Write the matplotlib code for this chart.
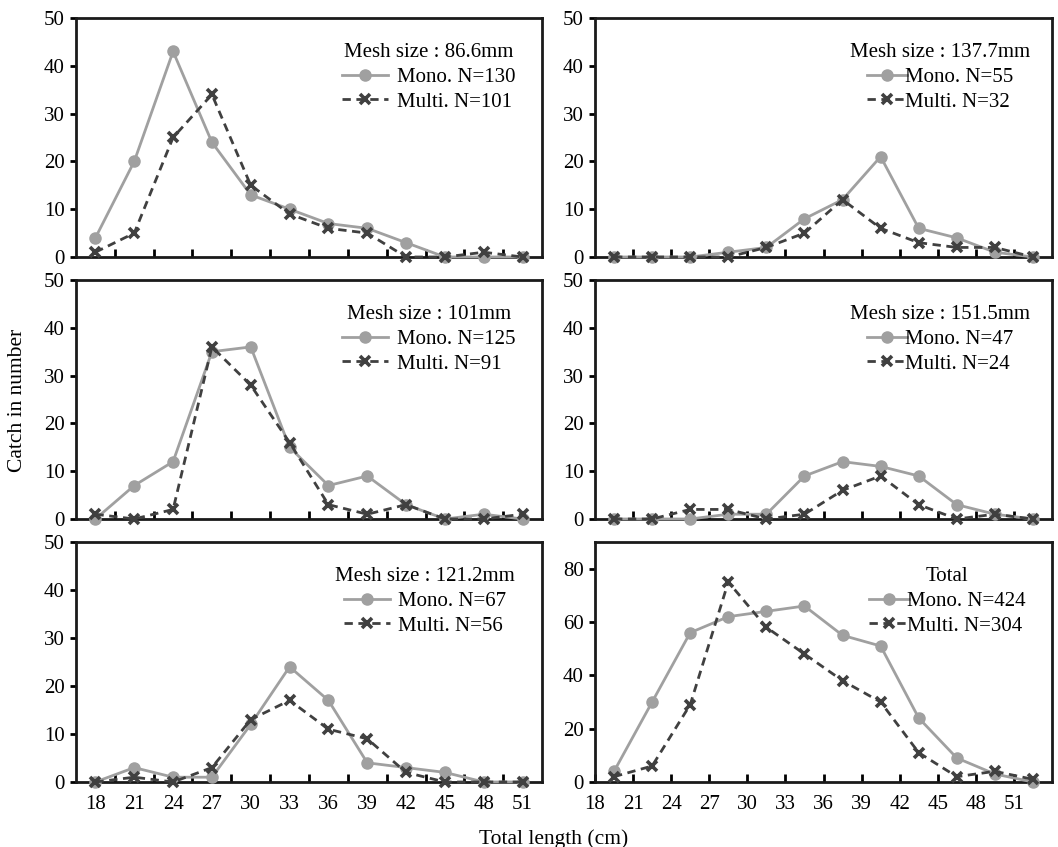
import numpy as np
import matplotlib.pyplot as plt

plt.rcParams['font.family'] = ['Liberation Serif', 'DejaVu Serif']
plt.rcParams['font.size'] = 15

# length classes (cm)
lengths = [18, 21, 24, 27, 30, 33, 36, 39, 42, 45, 48, 51]

# catch in number per length class
mono_866 = [4, 20, 43, 24, 13, 10, 7, 6, 3, 0, 0, 0]
multi_866 = [1, 5, 25, 34, 15, 9, 6, 5, 0, 0, 1, 0]

mono_1377 = [0, 0, 0, 1, 2, 8, 12, 21, 6, 4, 1, 0]
multi_1377 = [0, 0, 0, 0, 2, 5, 12, 6, 3, 2, 2, 0]

mono_101 = [0, 7, 12, 35, 36, 15, 7, 9, 3, 0, 1, 0]
multi_101 = [1, 0, 2, 36, 28, 16, 3, 1, 3, 0, 0, 1]

mono_1515 = [0, 0, 0, 1, 1, 9, 12, 11, 9, 3, 1, 0]
multi_1515 = [0, 0, 2, 2, 0, 1, 6, 9, 3, 0, 1, 0]

mono_1212 = [0, 3, 1, 1, 12, 24, 17, 4, 3, 2, 0, 0]
multi_1212 = [0, 1, 0, 3, 13, 17, 11, 9, 2, 0, 0, 0]

mono_total = [4, 30, 56, 62, 64, 66, 55, 51, 24, 9, 3, 0]
multi_total = [2, 6, 29, 75, 58, 48, 38, 30, 11, 2, 4, 1]

titles = ['Mesh size : 86.6mm', 'Mesh size : 137.7mm',
          'Mesh size : 101mm', 'Mesh size : 151.5mm',
          'Mesh size : 121.2mm', 'Total']
mono_n = [130, 55, 125, 47, 67, 424]
multi_n = [101, 32, 91, 24, 56, 304]

panels = [(mono_866, multi_866), (mono_1377, multi_1377),
          (mono_101, multi_101), (mono_1515, multi_1515),
          (mono_1212, multi_1212), (mono_total, multi_total)]

W, H = 1058, 847
fig = plt.figure(figsize=(W / 100, H / 100), dpi=100)

cols = [(76, 542), (595, 1052)]
rows = [(18, 257), (280, 519), (542, 782)]

mono_col = '#a0a0a0'
multi_col = '#404040'

x = np.arange(len(lengths))

for i, (mono, multi) in enumerate(panels):
    r, c = divmod(i, 2)
    x0, x1 = cols[c]
    y0, y1 = rows[r]
    ax = fig.add_axes([x0 / W, (H - y1) / H, (x1 - x0) / W, (y1 - y0) / H])

    ax.plot(x, mono, '-', color=mono_col, lw=2, marker='o', ms=8,
            mfc=mono_col, mec=mono_col, clip_on=False, zorder=3,
            label='Mono. N=%d' % mono_n[i])
    ax.plot(x, multi, color=multi_col, lw=2, ls=(0, (3, 2)), marker='x',
            ms=7, mew=2.6, clip_on=False, zorder=4,
            label='Multi. N=%d' % multi_n[i])

    ax.set_xlim(-0.5, len(lengths) - 0.5)
    is_total = (i == 5)
    if is_total:
        ax.set_ylim(0, 90)
        ax.set_yticks(range(0, 81, 20))
    else:
        ax.set_ylim(0, 50)
        ax.set_yticks(range(0, 51, 10))

    # tick marks sit between the length classes
    ax.set_xticks(np.arange(0.5, len(lengths) - 1, 1.0))
    if r == 2:
        if is_total:
            ax.set_xticks(np.arange(-0.5, len(lengths) - 1, 1.0))
            ax.set_xticklabels([str(v) for v in lengths])
        else:
            ax.set_xticks(x, [str(v) for v in lengths], minor=True)
            ax.set_xticklabels([])
            ax.tick_params(axis='x', which='minor', length=0, pad=9)
    else:
        ax.set_xticklabels([])

    ax.tick_params(axis='x', which='major', direction='in', length=6, width=2, pad=9)
    ax.tick_params(axis='y', direction='out', length=4, width=2, pad=4)
    for s in ax.spines.values():
        s.set_linewidth(2)
        s.set_color('#1a1a1a')

    if c == 0:
        leg = ax.legend(title=titles[i], loc='upper right', frameon=False,
                        handlelength=2.2, handletextpad=0.4, labelspacing=0.25,
                        bbox_to_anchor=(0.96, 0.93), borderaxespad=0)
    elif is_total:
        leg = ax.legend(title=titles[i], loc='upper right', frameon=False,
                        handlelength=1.9, handletextpad=-0.1, labelspacing=0.25,
                        bbox_to_anchor=(0.96, 0.93), borderaxespad=0)
    else:
        leg = ax.legend(title=titles[i], loc='upper right', frameon=False,
                        handlelength=1.9, handletextpad=-0.1, labelspacing=0.25,
                        bbox_to_anchor=(0.97, 0.93), borderaxespad=0)
    leg.get_title().set_fontsize(15)

fig.text(18 / W, 1 - 400 / H, 'Catch in number', rotation=90,
         ha='center', va='center', fontsize=15.5)
fig.text(554 / W, 1 - 839 / H, 'Total length (cm)', ha='center',
         va='center', fontsize=15.5)

fig.savefig('out.png', dpi=100)
